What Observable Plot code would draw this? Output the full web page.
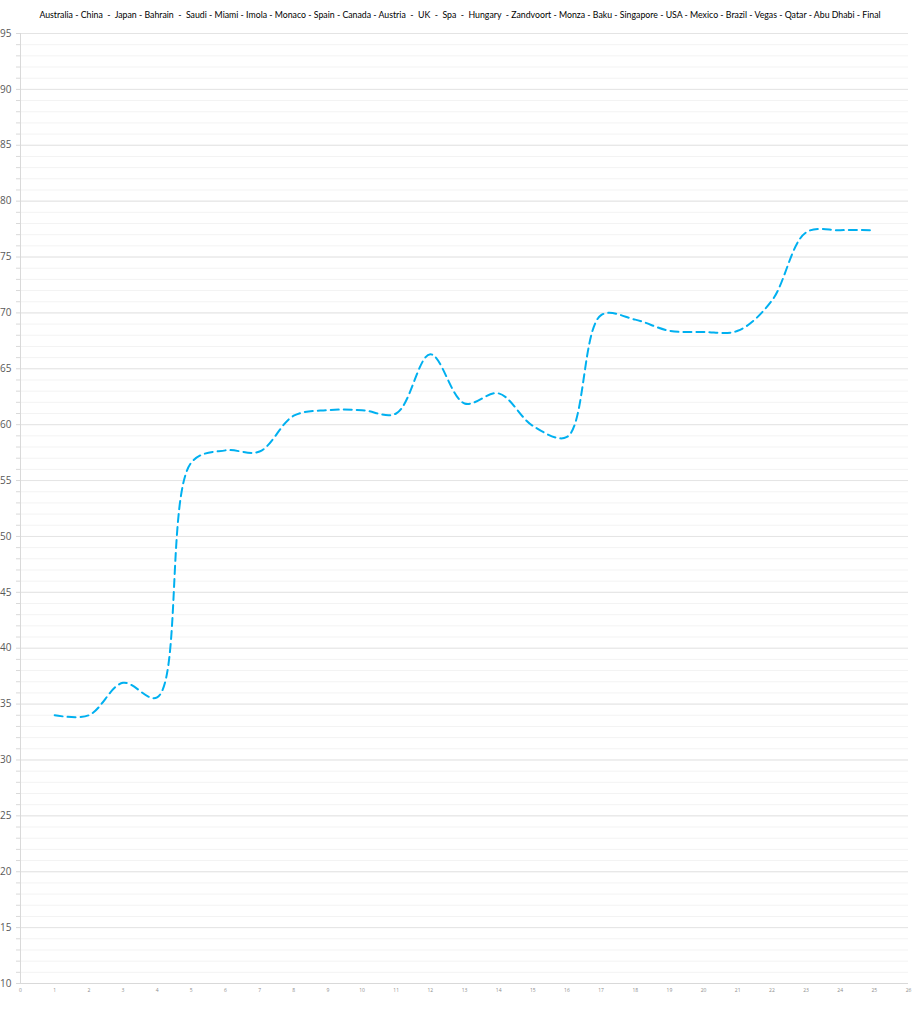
<!DOCTYPE html>
<html>
<head>
<meta charset="utf-8">
<script src="https://cdn.jsdelivr.net/npm/d3@7"></script>
<script src="https://cdn.jsdelivr.net/npm/@observablehq/plot@0.6"></script>
<style>
  body { margin: 0; background: #fff; }
  #title { display: block; overflow: visible; }
</style>
</head>
<body>
<div id="titlebox"></div>
<div id="chart"></div>
<script>
const races = ["Australia", "China", "Japan", "Bahrain", "Saudi", "Miami", "Imola", "Monaco", "Spain", "Canada", "Austria", "UK", "Spa", "Hungary", "Zandvoort", "Monza", "Baku", "Singapore", "USA", "Mexico", "Brazil", "Vegas", "Qatar", "Abu Dhabi", "Final"];
const separators = [" - ", "  -  ", " - ", "  -  ", " - ", " - ", " - ", " - ", " - ", " - ", "  -  ", "  -  ", "  -  ", "  - ", " - ", " - ", " - ", " - ", " - ", " - ", " - ", " - ", " - ", " - "];
const roundIndex = d3.range(1, 26);
const values = [34.0, 34.0, 36.9, 35.6, 56.6, 57.7, 57.6, 60.8, 61.3, 61.3, 61.0, 66.3, 61.9, 62.8, 59.9, 58.9, 69.8, 69.4, 68.4, 68.3, 68.4, 71.1, 77.2, 77.4, 77.4];
const yMajorTicks = d3.range(10, 96, 5);
const yMinorTicks = d3.range(10, 96, 1);
const xTicks = d3.range(0, 27, 1);

const titleText = races.map((r, i) => r + (i < separators.length ? separators[i] : "")).join("");
const tsvg = d3.select("#titlebox").append("svg").attr("id", "title").attr("width", 917).attr("height", 30);
tsvg.append("text")
  .attr("x", 460).attr("y", 18)
  .attr("text-anchor", "middle")
  .attr("xml:space", "preserve")
  .style("white-space", "pre")
  .style("font", "8.75px Lato, sans-serif")
  .attr("fill", "#000")
  .text(titleText);

const data = roundIndex.map((x, i) => ({x, y: values[i], race: races[i]}));

const chart = Plot.plot({
  width: 917,
  height: 994,
  marginLeft: 20,
  marginRight: 9,
  marginTop: 3,
  marginBottom: 41,
  style: {overflow: "visible", fontFamily: "'Open Sans', sans-serif", background: "#fff"},
  x: {domain: [0, 26]},
  y: {domain: [10, 95]},
  marks: [
    Plot.gridY(yMinorTicks, {stroke: "#f3f3f3", strokeOpacity: 1}),
    Plot.gridY(yMajorTicks, {stroke: "#e4e4e4", strokeOpacity: 1}),
    Plot.axisY(yMinorTicks, {tickSize: 4, text: null, stroke: "#d9d9d9", label: null}),
    Plot.axisY(yMajorTicks, {tickSize: 0, tickPadding: 9, fontSize: 10, fill: "#595959", label: null}),
    Plot.ruleX([0], {stroke: "#d9d9d9"}),
    Plot.ruleY([10], {stroke: "#d9d9d9"}),
    Plot.axisX(xTicks, {tickSize: 0, tickPadding: 5, fontSize: 5, fill: "#8c8c8c", label: null}),
    Plot.line(data, {x: "x", y: "y", curve: "catmull-rom", stroke: "#00b0f0", strokeWidth: 2, strokeDasharray: "8,5"})
  ]
});
document.getElementById("chart").appendChild(chart);
</script>
</body>
</html>
